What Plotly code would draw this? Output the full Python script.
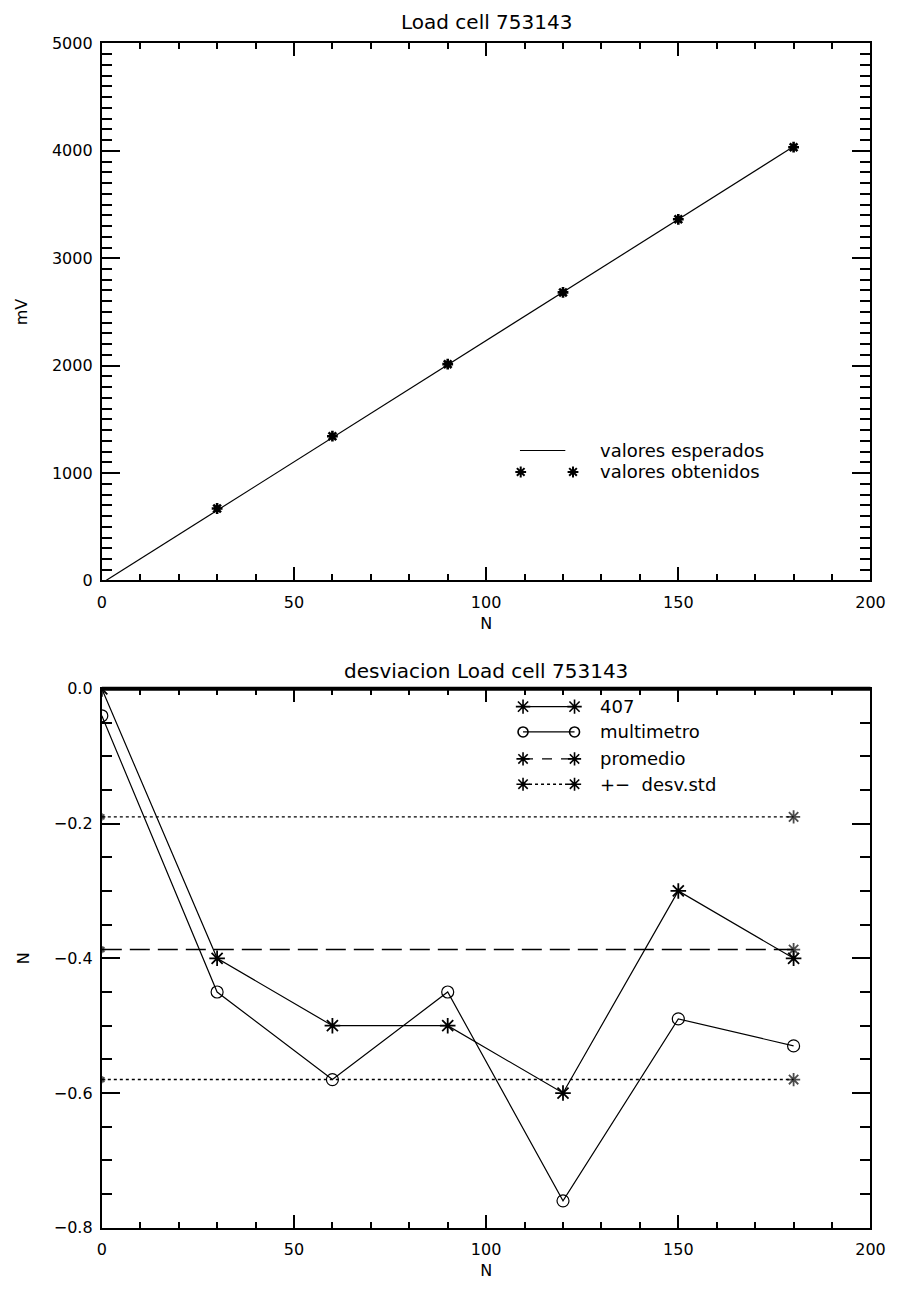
import plotly.graph_objects as go

# ---- calibration data: load cell 753143 ----
n_obtenidos = [30, 60, 90, 120, 150, 180]
mv_obtenidos = [670, 1343, 2014, 2682, 3363, 4034]
n_esperados = [0, 180]
mv_esperados = [-25, 4040]

# ---- deviation (N) per applied load ----
n_carga = [0, 30, 60, 90, 120, 150, 180]
desv_407 = [0.0, -0.40, -0.50, -0.50, -0.60, -0.30, -0.40]
desv_multimetro = [-0.04, -0.45, -0.58, -0.45, -0.76, -0.49, -0.53]
n_referencia = [0, 180]
promedio = -0.387
desv_std_sup = -0.19
desv_std_inf = -0.58

# minor tick positions for each axis
minor_x = [v for v in range(0, 201, 10) if v % 50]
minor_mv = [v for v in range(0, 5001, 100) if v % 1000]
minor_desv = [round(-0.05 * i, 2) for i in range(17) if i % 4]

FONT = "DejaVu Sans"
INK = "black"
W, H = 906, 1290


def mk(symbol, size, width):
    return dict(symbol=symbol, size=size, color=INK, line=dict(color=INK, width=width))


fig = go.Figure()

# top panel
fig.add_trace(go.Scatter(x=n_esperados, y=mv_esperados, mode="lines",
                         line=dict(color=INK, width=1.2), xaxis="x", yaxis="y"))
fig.add_trace(go.Scatter(x=n_obtenidos, y=mv_obtenidos, mode="markers",
                         marker=mk("asterisk-open", 9, 2.6), xaxis="x", yaxis="y"))

# bottom panel
for y_ref, dash, w in [(desv_std_sup, "3px,3px", 1.4),
                       (desv_std_inf, "3px,3px", 1.4),
                       (promedio, "20px,8px", 1.6)]:
    fig.add_trace(go.Scatter(x=n_referencia, y=[y_ref] * 2, mode="lines+markers",
                             line=dict(color=INK, width=w, dash=dash),
                             marker=mk("asterisk-open", [6, 11], 1.8),
                             xaxis="x2", yaxis="y2"))
fig.add_trace(go.Scatter(x=n_carga, y=desv_407, mode="lines+markers",
                         line=dict(color=INK, width=1.2),
                         marker=mk("asterisk-open", 13, 1.8), xaxis="x2", yaxis="y2"))
fig.add_trace(go.Scatter(x=n_carga, y=desv_multimetro, mode="lines+markers",
                         line=dict(color=INK, width=1.2),
                         marker=mk("circle-open", 12, 1.2), xaxis="x2", yaxis="y2"))

# legend keys, placed in panel-fraction coordinates on overlay axes
KEY_X0, KEY_X1, TEXT_X = 0.548, 0.615, 0.645
top_legend = [("valores esperados", 0.242), ("valores obtenidos", 0.202)]
fig.add_trace(go.Scatter(x=[KEY_X0 - 0.004, KEY_X1 - 0.012], y=[top_legend[0][1]] * 2,
                         mode="lines", line=dict(color=INK, width=1.2),
                         xaxis="x3", yaxis="y3"))
fig.add_trace(go.Scatter(x=[KEY_X0 - 0.003, KEY_X1 - 0.002], y=[top_legend[1][1]] * 2,
                         mode="markers", marker=mk("asterisk-open", 9, 2),
                         xaxis="x3", yaxis="y3"))

bot_legend = [("407", 0.967, "solid", "asterisk-open", 12, 1.2),
              ("multimetro", 0.920, "solid", "circle-open", 10, 1.2),
              ("promedio", 0.870, "10px,9px", "asterisk-open", 11, 1.4),
              ("+\u2212  desv.std", 0.823, "3px,3px", "asterisk-open", 11, 1.4)]
for _, yk, dash, sym, size, lw in bot_legend:
    fig.add_trace(go.Scatter(x=[KEY_X0, KEY_X1], y=[yk, yk], mode="lines+markers",
                             line=dict(color=INK, width=lw, dash=dash),
                             marker=mk(sym, size, 1.6), cliponaxis=False,
                             xaxis="x4", yaxis="y4"))

LEGFONT = dict(family=FONT, size=18, color=INK)
annotations = []
for text, yk in top_legend:
    annotations.append(dict(text=text, x=TEXT_X, y=yk, xref="x domain", yref="y domain",
                            xanchor="left", yanchor="middle", showarrow=False, font=LEGFONT))
for text, yk, *_ in bot_legend:
    annotations.append(dict(text=text, x=TEXT_X, y=yk, xref="x2 domain", yref="y2 domain",
                            xanchor="left", yanchor="middle", showarrow=False, font=LEGFONT))

# panel titles
TITLEFONT = dict(family=FONT, size=20, color=INK)
annotations.append(dict(text="Load cell 753143", x=0.5, y=1, xref="x domain", yref="y domain",
                        yshift=21, xanchor="center", yanchor="middle", showarrow=False,
                        font=TITLEFONT))
annotations.append(dict(text="desviacion Load cell 753143", x=0.5, y=1, xref="x2 domain",
                        yref="y2 domain", yshift=18, xanchor="center", yanchor="middle",
                        showarrow=False, font=TITLEFONT))

TICKFONT = dict(family=FONT, size=16, color=INK)
AXTITLEFONT = dict(family=FONT, size=16, color=INK)


def xaxis(domain, anchor):
    return dict(domain=domain, anchor=anchor, range=[0, 200],
                tickmode="linear", tick0=0, dtick=50,
                ticks="inside", ticklen=13, tickwidth=2, tickcolor=INK,
                minor=dict(tickmode="array", tickvals=minor_x, ticks="inside", ticklen=6,
                           tickwidth=2, tickcolor=INK),
                showline=True, linecolor=INK, linewidth=2, mirror="allticks",
                showgrid=False, zeroline=False, ticklabelstandoff=6,
                tickfont=TICKFONT,
                title=dict(text="N", font=AXTITLEFONT, standoff=7))


def yaxis(domain, anchor, rng, dtick, minor_vals, fmt, title):
    return dict(domain=domain, anchor=anchor, range=rng,
                tickmode="linear", tick0=0, dtick=dtick, tickformat=fmt,
                ticks="inside", ticklen=18, tickwidth=2, tickcolor=INK,
                minor=dict(tickmode="array", tickvals=minor_vals, ticks="inside",
                           ticklen=10, tickwidth=2, tickcolor=INK),
                showline=True, linecolor=INK, linewidth=2, mirror="allticks",
                showgrid=False, zeroline=False, ticklabelstandoff=4,
                tickfont=TICKFONT,
                title=dict(text=title, font=AXTITLEFONT, standoff=20))


xd = [99 / W, 885 / W]
top_dom = [1 - 580 / H, 1 - 35 / H]
bot_dom = [1 - 1237 / H, 1 - 690 / H]

fig.update_layout(
    width=W, height=H, autosize=False,
    margin=dict(l=0, r=0, t=0, b=0),
    paper_bgcolor="white", plot_bgcolor="white",
    showlegend=False,
    xaxis=xaxis(xd, "y"),
    yaxis=yaxis(top_dom, "x", [0, 5000], 1000, minor_mv, "d", "mV"),
    xaxis2=xaxis(xd, "y2"),
    yaxis2=yaxis(bot_dom, "x2", [-0.8, 0.0], 0.2, minor_desv, ".1f", "N"),
    xaxis3=dict(overlaying="x", range=[0, 1], visible=False),
    yaxis3=dict(overlaying="y", range=[0, 1], visible=False),
    xaxis4=dict(overlaying="x2", range=[0, 1], visible=False),
    yaxis4=dict(overlaying="y2", range=[0, 1], visible=False),
    annotations=annotations,
    shapes=[dict(type="line", xref="x2 domain", yref="y2 domain", x0=0, x1=1, y0=1, y1=1,
                 line=dict(color=INK, width=4))],
)

fig.write_html("out.html")
